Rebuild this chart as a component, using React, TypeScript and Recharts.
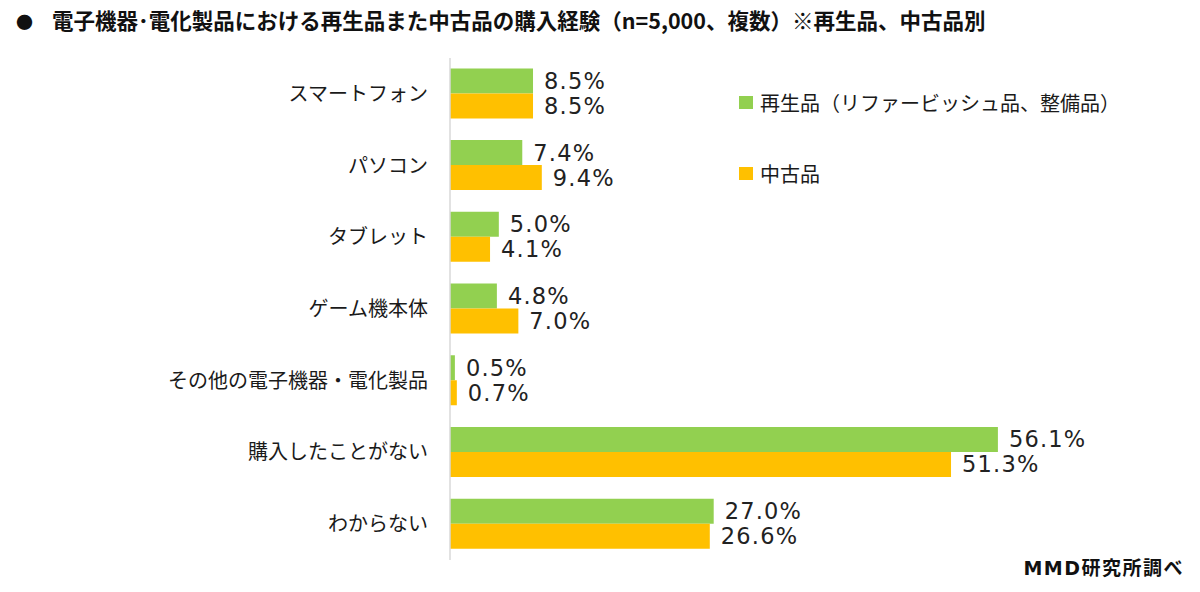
import { BarChart, Bar, XAxis, YAxis, LabelList } from "recharts";

const categories = [
  "スマートフォン",
  "パソコン",
  "タブレット",
  "ゲーム機本体",
  "その他の電子機器・電化製品",
  "購入したことがない",
  "わからない",
];
const refurbished = [8.5, 7.4, 5.0, 4.8, 0.5, 56.1, 27.0];
const used = [8.5, 9.4, 4.1, 7.0, 0.7, 51.3, 26.6];
const seriesNames = ["再生品（リファービッシュ品、整備品）", "中古品"];

const GREEN = "#92D050";
const ORANGE = "#FFC000";
const JP = '"Noto Sans CJK JP", "Noto Sans", sans-serif';
const NUM = '"DejaVu Sans", Verdana, sans-serif';

const data = categories.map((name, i) => ({
  name,
  refurbished: refurbished[i],
  used: used[i],
}));

const CategoryTick = (props: any) => {
  const { x, y, payload } = props;
  return (
    <text
      x={x}
      y={y}
      dy={7}
      textAnchor="end"
      fontSize={20}
      fontFamily={JP}
      fill="#1a1a1a"
    >
      {payload.value}
    </text>
  );
};

const pct = (v: any) => `${Number(v).toFixed(1)}%`;

export default function App() {
  const colors = [GREEN, ORANGE];
  return (
    <div
      style={{
        position: "fixed",
        top: 0,
        left: 0,
        width: 1200,
        height: 592,
        background: "#fff",
      }}
    >
      <div
        style={{
          position: "absolute",
          left: 16,
          top: 6,
          fontFamily: JP,
          fontWeight: 700,
          fontSize: 21.5,
          lineHeight: "28px",
          color: "#111",
          whiteSpace: "nowrap",
        }}
      >
        <span style={{ marginRight: 19, fontSize: 17 }}>●</span>
        電子機器･電化製品における再生品また中古品の購入経験（n=5,000、複数）※再生品、中古品別
      </div>
      <BarChart
        width={1200}
        height={592}
        data={data}
        layout="vertical"
        margin={{ top: 58, right: 164, bottom: 32, left: 0 }}
        barCategoryGap="14.5%"
        barGap={0}
      >
        <XAxis type="number" domain={[0, 60]} hide />
        <YAxis
          type="category"
          dataKey="name"
          width={450}
          tickLine={false}
          tickSize={0}
          tickMargin={22}
          axisLine={{ stroke: "#d9d9d9", strokeWidth: 1.5 }}
          tick={<CategoryTick />}
          interval={0}
        />
        <Bar
          dataKey="refurbished"
          name={seriesNames[0]}
          fill={GREEN}
          isAnimationActive={false}
        >
          <LabelList
            dataKey="refurbished"
            position="right"
            offset={11}
            fontSize={22.5}
            fontFamily={NUM}
            letterSpacing={1.2}
            fill="#222"
            formatter={pct}
          />
        </Bar>
        <Bar
          dataKey="used"
          name={seriesNames[1]}
          fill={ORANGE}
          isAnimationActive={false}
        >
          <LabelList
            dataKey="used"
            position="right"
            offset={11}
            fontSize={22.5}
            fontFamily={NUM}
            letterSpacing={1.2}
            fill="#222"
            formatter={pct}
          />
        </Bar>
      </BarChart>
      <div
        style={{
          position: "absolute",
          left: 739,
          top: 67,
          fontFamily: JP,
          fontSize: 20,
          color: "#1a1a1a",
        }}
      >
        {seriesNames.map((n, i) => (
          <div
            key={n}
            style={{ display: "flex", alignItems: "center", height: 71 }}
          >
            <span
              style={{
                display: "inline-block",
                width: 14,
                height: 13,
                background: colors[i],
                marginRight: 7,
              }}
            />
            <span>{n}</span>
          </div>
        ))}
      </div>
      <div
        style={{
          position: "absolute",
          right: 16,
          top: 553,
          fontFamily: JP,
          fontWeight: 700,
          fontSize: 19,
          letterSpacing: 1.5,
          color: "#111",
          whiteSpace: "nowrap",
        }}
      >
        <span style={{ fontFamily: NUM }}>MMD</span>研究所調べ
      </div>
    </div>
  );
}
